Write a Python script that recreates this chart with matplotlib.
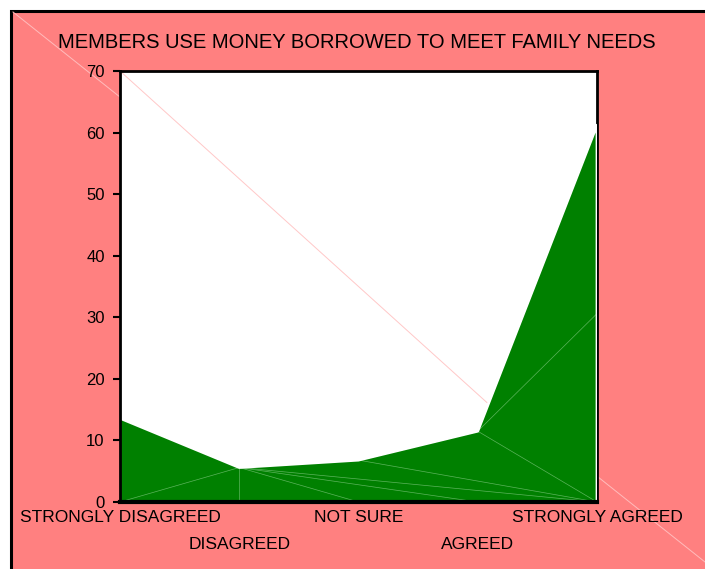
import matplotlib.pyplot as plt
from matplotlib.patches import Rectangle
from matplotlib.lines import Line2D
import numpy as np

plt.rcParams['font.family'] = ['Liberation Sans', 'DejaVu Sans']

# --- data ---
title = "MEMBERS USE MONEY BORROWED TO MEET FAMILY NEEDS"
categories = ["STRONGLY DISAGREED", "DISAGREED", "NOT SURE", "AGREED", "STRONGLY AGREED"]
values = [13.6, 5.6, 6.8, 11.5, 61.2]
y_ticks = [0, 10, 20, 30, 40, 50, 60, 70]

salmon = '#FF8080'
green = '#008000'

fig = plt.figure(figsize=(7.05, 5.69), dpi=100)
fig.patch.set_facecolor('white')

# salmon chart frame with black border (right/bottom edges cut off)
W, H = 705, 569
frame = Rectangle((11 / W, -0.05), 1.2, 1 - 11 / H + 0.05, transform=fig.transFigure,
                  facecolor=salmon, edgecolor='black', linewidth=2.2, zorder=-2)
fig.patches.append(frame)
fig.lines.append(Line2D([13 / W, 1.0], [1 - 12 / H, 1 - 562 / H], transform=fig.transFigure,
                        color='#ffbcbc', linewidth=0.7, zorder=-1))

ax = fig.add_axes([120 / W, 1 - 502 / H, 477 / W, 431 / H])
ax.set_zorder(1)
ax.set_facecolor('white')

x = np.arange(len(categories))
v = np.array(values)

# faint diagonal across the plot area
ax.plot([0, 1], [1, 0], transform=ax.transAxes, color='#ffc8c8', linewidth=0.7, zorder=1)

ax.fill_between(x, 0, v, color=green, linewidth=0, zorder=2)
ax.plot(np.append(x, x[-1]), np.append(v, 0), color='white', linewidth=2.0, zorder=3)

# faint fill seams
seam = dict(color='#5cb45c', linewidth=0.5, zorder=2.5)
ax.plot([x[0], x[1]], [0, v[1]], **seam)
ax.plot([x[1], x[1]], [0, v[1]], **seam)
for k in (2, 3, 4):
    ax.plot([x[1], x[k]], [v[1], 0], **seam)
ax.plot([x[2], x[4]], [v[2], 0], **seam)
ax.plot([x[3], x[4]], [v[3], 0], **seam)
ax.plot([x[3], x[4]], [v[3], v[4] / 2], **seam)

ax.set_xlim(0, len(categories) - 1)
ax.set_ylim(0, 70)
ax.set_yticks(y_ticks)
ax.set_yticklabels([str(t) for t in y_ticks], fontsize=12)
ax.tick_params(axis='y', direction='out', length=5, width=1.5, pad=6, colors='black')

ax.set_xticks(x)
ax.set_xticklabels(categories, fontsize=12.5)
ax.tick_params(axis='x', length=0)
for i, tick in enumerate(ax.xaxis.get_major_ticks()):
    tick.set_pad(6 if i % 2 == 0 else 25)

for side in ['left', 'top', 'right']:
    ax.spines[side].set_linewidth(2)
ax.spines['bottom'].set_linewidth(3)
for s in ax.spines.values():
    s.set_color('black')
    s.set_zorder(3.5)
ax.spines['right'].set_zorder(2.8)

fig.text(357 / W, 1 - 42 / H, title, ha='center', va='center', fontsize=14.5)

fig.savefig('out.png', dpi=100, facecolor=fig.get_facecolor())
